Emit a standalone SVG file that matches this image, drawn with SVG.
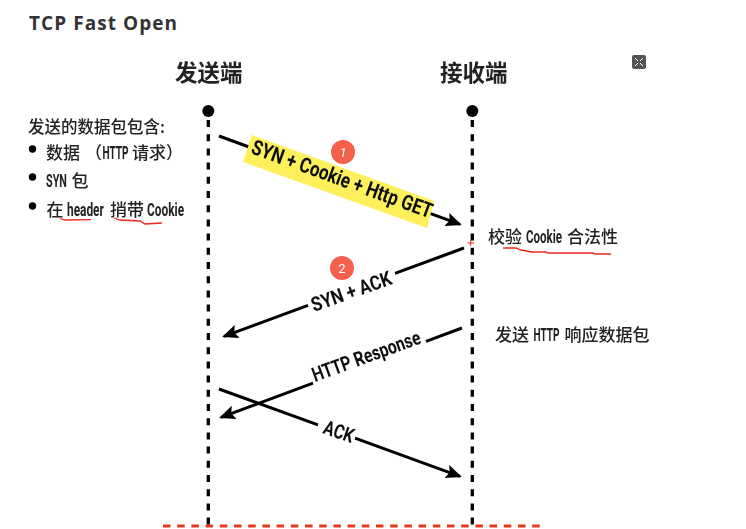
<svg xmlns="http://www.w3.org/2000/svg" width="746" height="529" viewBox="0 0 746 529">
<defs>
<marker id="a" markerUnits="userSpaceOnUse" markerWidth="17" markerHeight="15" refX="14" refY="7.500" orient="auto"><path d="M0 0.500L16 7.500L0 14.500L3 7.500Z" fill="#000"/></marker>
<filter id="soft" x="-5%" y="-5%" width="110%" height="110%"><feGaussianBlur stdDeviation="0.4"/></filter>
</defs>
<style>
.t{font-family:"Noto Sans CJK SC","Noto Sans",sans-serif;fill:#222;font-weight:500;font-size:17px}
.h{font-size:22.500px;font-weight:700}
.n{font-family:Roboto,"Liberation Sans",sans-serif;font-weight:700;fill:#222;font-size:18px}
.l{font-family:Roboto,"Liberation Sans",sans-serif;font-weight:700;fill:#111;font-size:20px}
.c{stroke:#000;stroke-width:3;fill:none}
.life{stroke:#000;stroke-width:3.300;stroke-dasharray:7 7.200;fill:none}
.r{stroke:#e8261a;stroke-width:1.300;fill:none}
.bu{fill:#000}
</style>
<rect width="746" height="529" fill="#fff"/>
<text id="title" x="29" y="29.500" font-family="'Open Sans','Noto Sans',sans-serif" font-weight="700" font-size="19" letter-spacing="1.050" fill="#333">TCP Fast Open</text>
<g filter="url(#soft)">
<path id="red-dash" d="M163 526H540" stroke="#e8391f" stroke-width="3" stroke-dasharray="7.500 6.700" fill="none"/>
<g id="sender"><text class="t h" x="175" y="81">发送端</text><circle cx="208.300" cy="111" r="6" fill="#000"/><path class="life" d="M208.300 120V526"/></g>
<g id="receiver"><text class="t h" x="440" y="81">接收端</text><circle cx="472.300" cy="111" r="6" fill="#000"/><path class="life" d="M472.300 120V526"/></g>
<g id="sender-notes">
<text class="t" style="font-size:16.500px" x="28" y="133">发送的数据包包含:</text>
<circle class="bu" cx="32.500" cy="149" r="3.700"/>
<text class="t" x="46" y="158.500">数据</text>
<text class="t" x="85" y="158.500">（</text>
<text class="n" transform="translate(102.500 158.500) scale(.56 1)">HTTP</text>
<text class="t" x="132" y="158.500">请求）</text>
<circle class="bu" cx="32.500" cy="177" r="3.700"/>
<text class="n" transform="translate(46 187) scale(.6 1)">SYN</text>
<text class="t" x="71.500" y="187">包</text>
<circle class="bu" cx="32.500" cy="206" r="3.700"/>
<text class="t" x="46.500" y="216">在</text>
<text class="n" transform="translate(67 216) scale(.66 1)">header</text>
<text class="t" x="110" y="216">捎带</text>
<text class="n" transform="translate(147 216) scale(.66 1)">Cookie</text>
<path class="r" d="M60 218.500L65 220L91 219.700"/><path class="r" d="M114 218L120 220L140 221L145 224L162 223"/>
</g>
<g id="receiver-notes">
<text class="t" x="488" y="243">校验</text>
<text class="n" transform="translate(526 243) scale(.64 1)">Cookie</text>
<text class="t" x="567" y="243">合法性</text>
<path class="r" d="M503 248L516 248L521 250L532 252L546 252L548 253L593 253L595 254L611 254"/>
<text class="t" x="495" y="341">发送</text>
<text class="n" transform="translate(533.500 341) scale(.56 1)">HTTP</text>
<text class="t" x="564.500" y="341">响应数据包</text>
</g>
<g id="connectors">
<path class="c" d="M219 136L460 224.300" marker-end="url(#a)"/>
<path class="c" d="M464 248L395 273.400M308 305.400L224 336.300" marker-end="url(#a)"/>
<path class="c" d="M462 328L426 341.300M313 383.100L221 417.300" marker-end="url(#a)"/>
<path class="c" d="M219 389L318 424.800M355 438.200L460 476.300" marker-end="url(#a)"/>
</g>
<g id="label-1">
<polygon points="252,135 434,201 427,228 243,162" fill="#fdf05a"/>
<text class="l" style="font-size:21px" transform="translate(250 153) rotate(20)" textLength="191" lengthAdjust="spacingAndGlyphs">SYN + Cookie + Http GET</text>
</g>
<text id="label-2" class="l" transform="translate(314 312) rotate(-19.500)" textLength="84" lengthAdjust="spacingAndGlyphs">SYN + ACK</text>
<text id="label-3" class="l" transform="translate(315 382) rotate(-20)" textLength="114" lengthAdjust="spacingAndGlyphs">HTTP Response</text>
<text id="label-4" class="l" transform="translate(322 433) rotate(19)" textLength="31" lengthAdjust="spacingAndGlyphs">ACK</text>
<g id="badge-1"><circle cx="343" cy="152" r="12" fill="#f4604c"/><text x="343" y="157" text-anchor="middle" font-family="Roboto,sans-serif" font-style="italic" font-size="13" fill="#fff">1</text></g>
<g id="badge-2"><circle cx="342" cy="268" r="12" fill="#f4604c"/><text x="342" y="273" text-anchor="middle" font-family="Roboto,sans-serif" font-size="13" fill="#fff">2</text></g>
</g>
<path id="cross" d="M467.500 243H474M470.700 240V246" stroke="#e8261a" fill="none"/>
<g id="icon"><rect x="632" y="55" width="14" height="14" rx="2" fill="#555"/><path d="M635 58l3 3M643 58l-3 3M635 66l3-3M643 66l-3-3" stroke="#fff" stroke-width="1"/></g>
</svg>
